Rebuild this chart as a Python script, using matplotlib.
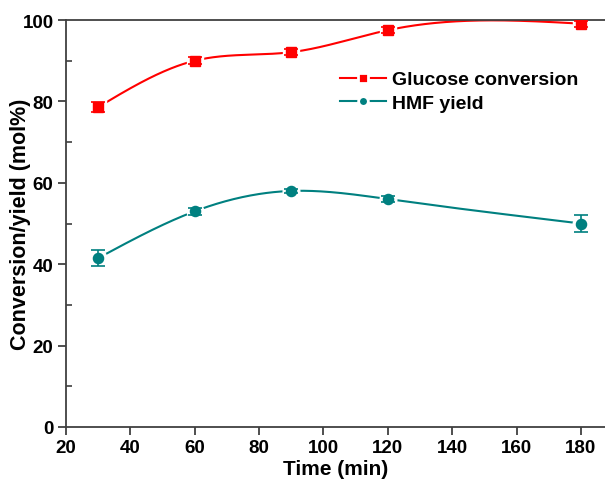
import matplotlib.pyplot as plt
import numpy as np
from matplotlib.ticker import MultipleLocator

plt.rcParams['font.family'] = ['Liberation Sans', 'DejaVu Sans']
plt.rcParams['font.weight'] = 'bold'

# data
time = [30, 60, 90, 120, 180]
glucose = [78.6, 90.0, 92.1, 97.5, 99.1]
glucose_err = [1.2, 0.8, 0.8, 0.8, 0.7]
hmf = [41.5, 53.0, 58.0, 56.0, 50.0]
hmf_err = [2.0, 0.8, 0.5, 0.8, 2.0]


def natural_spline(x, y, xs):
    # natural cubic spline, just for the smooth connecting line
    x = np.asarray(x, float)
    y = np.asarray(y, float)
    n = len(x)
    h = np.diff(x)
    A = np.zeros((n, n))
    b = np.zeros(n)
    A[0, 0] = A[-1, -1] = 1
    for i in range(1, n - 1):
        A[i, i - 1] = h[i - 1]
        A[i, i] = 2 * (h[i - 1] + h[i])
        A[i, i + 1] = h[i]
        b[i] = 6 * ((y[i + 1] - y[i]) / h[i] - (y[i] - y[i - 1]) / h[i - 1])
    M = np.linalg.solve(A, b)
    out = np.empty_like(xs)
    for j, t in enumerate(xs):
        i = min(max(np.searchsorted(x, t, side='right') - 1, 0), n - 2)
        dx = t - x[i]
        bb = (y[i + 1] - y[i]) / h[i] - h[i] * (2 * M[i] + M[i + 1]) / 6
        d = (M[i + 1] - M[i]) / (6 * h[i])
        out[j] = y[i] + bb * dx + M[i] / 2 * dx ** 2 + d * dx ** 3
    return out


fig = plt.figure(figsize=(6.05, 4.81), dpi=100)
ax = fig.add_axes([66 / 605, 53 / 481, 539 / 605, 407 / 481])

xs = np.linspace(time[0], time[-1], 400)
red = '#ff0000'
teal = '#008080'

ax.plot(xs, natural_spline(time, glucose, xs), color=red, lw=1.5, zorder=1)
ax.plot(xs, natural_spline(time, hmf, xs), color=teal, lw=1.5, zorder=1)

# white halo so the line stops short of each marker
ax.plot(time, glucose, 's', color='white', ms=11.5, zorder=2)
ax.plot(time, hmf, 'o', color='white', ms=12, zorder=2)

ax.errorbar(time, glucose, yerr=glucose_err, fmt='s', color=red, ms=6.8,
            mec=red, ecolor=red, elinewidth=1.2, capsize=5,
            capthick=1.2, zorder=3)
ax.errorbar(time, hmf, yerr=hmf_err, fmt='o', color=teal, ms=7.3,
            mec=teal, ecolor=teal, elinewidth=1.2, capsize=5,
            capthick=1.2, zorder=3)

# legend handles
h1, = ax.plot([], [], '-s', color=red, ms=6.5, mec='white', mew=2, lw=1.5)
h2, = ax.plot([], [], '-o', color=teal, ms=7, mec='white', mew=2, lw=1.5)
ax.legend([h1, h2], ['Glucose conversion', 'HMF yield'], loc='upper left',
          bbox_to_anchor=(0.508, 0.875), frameon=False, fontsize=14,
          handlelength=2.4, handletextpad=0.3, labelspacing=0.3,
          borderpad=0, borderaxespad=0)

ax.set_xlim(20, 187.5)
ax.set_ylim(0, 100)
ax.xaxis.set_major_locator(MultipleLocator(20))
ax.yaxis.set_major_locator(MultipleLocator(20))
ax.yaxis.set_minor_locator(MultipleLocator(10))

for s in ['left', 'bottom', 'top']:
    ax.spines[s].set_color('#404040')
    ax.spines[s].set_linewidth(1.3)
ax.spines['right'].set_visible(False)

ax.tick_params(axis='both', which='major', direction='out', length=6,
               width=1.3, color='#404040', labelsize=13.5, pad=3)
ax.tick_params(axis='y', which='minor', direction='in', length=4,
               width=1.2, color='#404040')

ax.set_xlabel('Time (min)', fontsize=15, fontweight='bold')
ax.set_ylabel('Conversion/yield (mol%)', fontsize=15.5, fontweight='bold',
              va='center')
ax.yaxis.set_label_coords(-0.085, 0.5)
ax.xaxis.set_label_coords(0.5, -0.103)
ax.xaxis.label.set_va('center')

fig.savefig('out.png', dpi=100)
